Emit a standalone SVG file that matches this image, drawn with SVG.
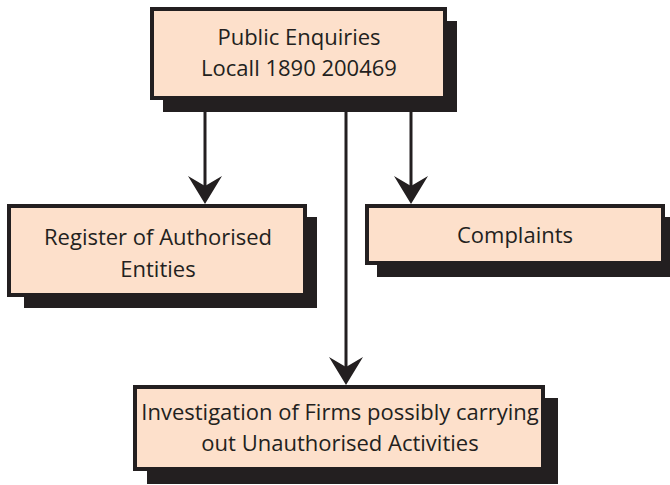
<svg xmlns="http://www.w3.org/2000/svg" width="670" height="485" viewBox="0 0 670 485">
  <defs>
    <marker id="arrow" viewBox="0 0 28 34" refX="16" refY="17" markerWidth="28" markerHeight="34" markerUnits="userSpaceOnUse" orient="auto">
      <path d="M0,0 L28,17 L0,34 L10,17 Z" fill="#231f20"/>
    </marker>
  </defs>
  <style>
    .shadow { fill: #231f20; }
    .box { fill: #fde0cb; stroke: #231f20; stroke-width: 4; }
    .lbl { font-family: "Open Sans", "Noto Sans", sans-serif; font-size: 22px; fill: #231f20; text-anchor: middle; }
    .conn { stroke: #231f20; stroke-width: 3; fill: none; marker-end: url(#arrow); }
  </style>
  <rect width="670" height="485" fill="#ffffff"/>

  <g id="connectors">
    <line class="conn" x1="205" y1="100" x2="205" y2="192"/>
    <line class="conn" x1="411" y1="100" x2="411" y2="192"/>
    <line class="conn" x1="346" y1="100" x2="346" y2="373"/>
  </g>

  <g id="node-public-enquiries">
    <rect class="shadow" x="163" y="21" width="294" height="91"/>
    <rect class="box" x="152" y="9" width="293" height="89"/>
    <text class="lbl" x="299" y="45">Public Enquiries</text>
    <text class="lbl" x="299" y="76">Locall 1890 200469</text>
  </g>

  <g id="node-register">
    <rect class="shadow" x="24" y="217" width="293" height="91"/>
    <rect class="box" x="9" y="206" width="296" height="89"/>
    <text class="lbl" x="158" y="245">Register of Authorised</text>
    <text class="lbl" x="158" y="277">Entities</text>
  </g>

  <g id="node-complaints">
    <rect class="shadow" x="377" y="217" width="293" height="60"/>
    <rect class="box" x="367" y="206" width="296" height="57"/>
    <text class="lbl" x="515" y="243">Complaints</text>
  </g>

  <g id="node-investigation">
    <rect class="shadow" x="147" y="398" width="411" height="86"/>
    <rect class="box" x="135" y="387" width="408" height="82"/>
    <text class="lbl" x="340" y="420">Investigation of Firms possibly carrying</text>
    <text class="lbl" x="340" y="451">out Unauthorised Activities</text>
  </g>
</svg>
